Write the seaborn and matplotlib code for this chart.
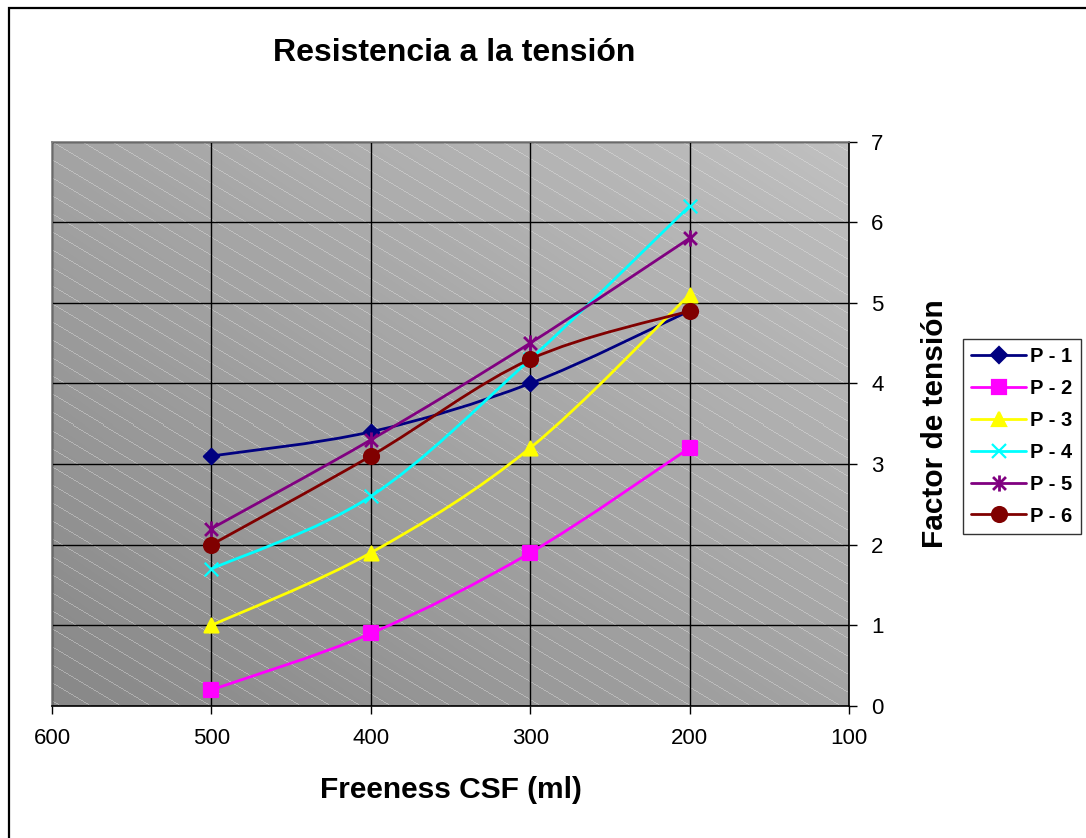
"""Resistencia a la tensión: Excel-style chart with smoothed lines."""
import numpy as np
import matplotlib
matplotlib.use('Agg')
import matplotlib.pyplot as plt
from matplotlib.path import Path
from matplotlib.patches import PathPatch, Rectangle
from matplotlib.lines import Line2D
import seaborn as sns

# Data
freeness = [500, 400, 300, 200]
p1 = [3.1, 3.4, 4.0, 4.9]
p2 = [0.2, 0.9, 1.9, 3.2]
p3 = [1.0, 1.9, 3.2, 5.1]
p4 = [1.7, 2.6, 4.3, 6.2]
p5 = [2.2, 3.3, 4.5, 5.8]
p6 = [2.0, 3.1, 4.3, 4.9]

series_names = ['P - 1', 'P - 2', 'P - 3', 'P - 4', 'P - 5', 'P - 6']
series_values = [p1, p2, p3, p4, p5, p6]
x_ticks = [600, 500, 400, 300, 200, 100]
y_ticks = [0, 1, 2, 3, 4, 5, 6, 7]

# Excel "star" marker: an X with a vertical bar through it
star = Path([(0, 1), (0, -1), (-0.8, 0.8), (0.8, -0.8), (-0.8, -0.8), (0.8, 0.8)],
            [Path.MOVETO, Path.LINETO] * 3)

colors = ['#000080', '#FF00FF', '#FFFF00', '#00FFFF', '#800080', '#800000']
markers = ['D', 's', '^', 'x', star, 'o']
marker_sizes = [60, 105, 100, 95, 135, 115]

sns.set_style('white')
plt.rcParams['font.family'] = ['Liberation Sans', 'DejaVu Sans']
plt.rcParams['text.color'] = 'black'
plt.rcParams['axes.labelcolor'] = 'black'


def smooth_path(xs, ys):
    """Cubic Bezier path through the points (Excel-like smoothing)."""
    pts = np.column_stack([xs, ys]).astype(float)
    n = len(pts)
    verts = [pts[0]]
    codes = [Path.MOVETO]
    for i in range(n - 1):
        a = pts[i - 1] if i > 0 else pts[i]
        b = pts[i]
        c = pts[i + 1]
        d = pts[i + 2] if i + 2 < n else pts[i + 1]
        verts += [b + (c - a) / 6, c - (d - b) / 6, c]
        codes += [Path.CURVE4] * 3
    return Path(verts, codes)


W, H = 1086, 838
fig = plt.figure(figsize=(W / 100, H / 100), dpi=100)
left, right, top, bottom = 52, 849, 141.5, 706
ax = fig.add_axes([left / W, 1 - bottom / H, (right - left) / W, (bottom - top) / H])

# Gradient background with light diagonal hatch
ph, pw = int(bottom - top), int(right - left)
rr, cc = np.mgrid[0:ph, 0:pw]
u = cc / (pw - 1)
v = 1 - rr / (ph - 1)
g = 0.533 + (0.753 - 0.533) * (u + v) / 2
stripe = ((rr - 0.6 * cc) % 18) < 1.0
g = np.where(stripe, g * 0.62 + 0.38 * 0.92, g)
ax.imshow(np.dstack([g, g, g]), extent=(0, 1, 0, 1), transform=ax.transAxes,
          aspect='auto', interpolation='nearest', zorder=0)

ax.set_xlim(600, 100)
ax.set_ylim(0, 7)
ax.set_xticks(x_ticks)
ax.set_yticks(y_ticks)
ax.set_axisbelow(True)
ax.grid(True, color='black', linewidth=1.0)

handles = []
for name, vals, col, mk, sz in zip(series_names, series_values, colors, markers, marker_sizes):
    ax.add_patch(PathPatch(smooth_path(freeness, vals), facecolor='none',
                           edgecolor=col, linewidth=2.0, zorder=3))
    lw = 2.0 if mk is star else 1.6
    sns.scatterplot(x=freeness, y=vals, marker=mk, color=col, s=sz,
                    edgecolor=col, linewidth=lw, ax=ax, zorder=4, legend=False)
    handles.append(Line2D([], [], color=col, linewidth=2.0, marker=mk,
                          markersize=np.sqrt(sz), markeredgewidth=lw,
                          markerfacecolor=col, markeredgecolor=col, label=name))

ax.yaxis.tick_right()
ax.yaxis.set_label_position('right')
ax.tick_params(axis='x', direction='out', length=6, width=1, labelsize=16,
               pad=10, colors='black', bottom=True)
ax.tick_params(axis='y', direction='out', length=6, width=1, labelsize=16,
               pad=10, colors='black', right=True, left=False)

for side in ['top', 'left']:
    ax.spines[side].set_color('#808080')
    ax.spines[side].set_linewidth(1.2)
for side in ['bottom', 'right']:
    ax.spines[side].set_color('black')
    ax.spines[side].set_linewidth(1.2)

ax.set_xlabel('Freeness CSF (ml)', fontsize=21.5, fontweight='bold')
ax.xaxis.set_label_coords(0.5, (bottom - 790) / (bottom - top))
ax.xaxis.label.set_verticalalignment('center')
ax.set_ylabel('Factor de tensión', fontsize=21.5, fontweight='bold')
ax.yaxis.set_label_coords((935 - left) / (right - left), 0.5)
ax.yaxis.label.set_verticalalignment('center')

fig.text(454 / W, 1 - 53 / H, 'Resistencia a la tensión', fontsize=23,
         fontweight='bold', ha='center', va='center')

leg = fig.legend(handles=handles, loc='upper left',
                 bbox_to_anchor=(963 / W, 1 - 339 / H), bbox_transform=fig.transFigure,
                 prop={'weight': 'bold', 'size': 14.5}, frameon=True, fancybox=False,
                 edgecolor='black', handlelength=2.75, handletextpad=0.2,
                 labelspacing=0.64, borderpad=0.4, borderaxespad=0)
leg.get_frame().set_linewidth(1.0)

# Outer chart frame (only top and left edges fall inside the picture)
fig.add_artist(Rectangle((9 / W, -0.1), 2, 1.1 - 8 / H, transform=fig.transFigure,
                         fill=False, edgecolor='black', linewidth=1.6))

fig.savefig('out.png', dpi=100)
plt.close(fig)
